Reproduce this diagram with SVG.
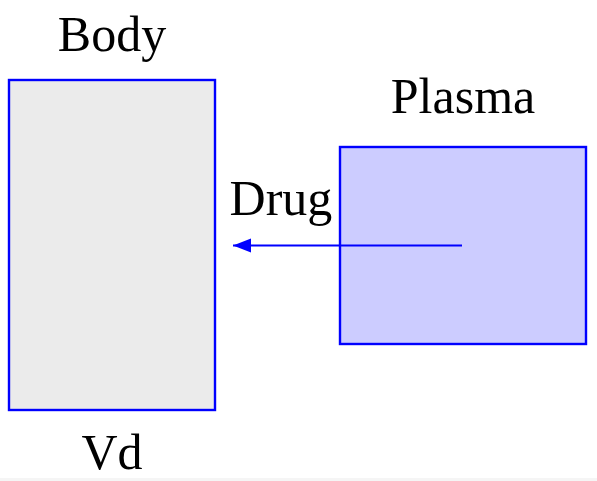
<svg xmlns="http://www.w3.org/2000/svg" width="597" height="481" viewBox="0 0 597 481">
  <defs>
    <style>
      .lbl { font-family: "Liberation Serif", "DejaVu Serif", serif; font-size: 50px; fill: #000; text-anchor: middle; }
      .box { stroke: #0000ff; stroke-width: 2.4; }
      .conn { stroke: #0000ff; stroke-width: 2.2; fill: none; }
    </style>
    <marker id="arrow" markerUnits="userSpaceOnUse" markerWidth="20" markerHeight="16" refX="18" refY="7" orient="auto">
      <path d="M0,0 L18,7 L0,14 Z" fill="#0000ff"/>
    </marker>
  </defs>
  <rect x="0" y="0" width="597" height="481" fill="#ffffff"/>
  <rect x="0" y="478" width="597" height="3" fill="#f5f5f5"/>
  <g id="body">
    <rect class="box" x="9" y="80" width="206" height="330" fill="#ebebeb"/>
    <text class="lbl" x="112" y="51">Body</text>
    <text class="lbl" x="112" y="469">Vd</text>
  </g>
  <g id="plasma">
    <rect class="box" x="340" y="147" width="246" height="197" fill="#ccccff"/>
    <text class="lbl" x="463" y="113">Plasma</text>
  </g>
  <g id="connectors">
    <line class="conn" x1="462" y1="245.5" x2="233" y2="245.5" marker-end="url(#arrow)"/>
    <text class="lbl" x="281" y="215">Drug</text>
  </g>
</svg>
